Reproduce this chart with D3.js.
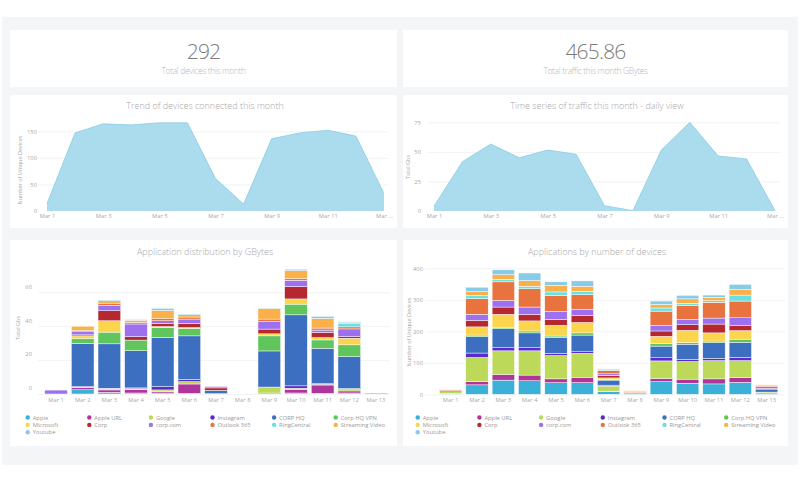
<!DOCTYPE html>
<html><head><meta charset="utf-8">
<script src="https://cdn.jsdelivr.net/npm/d3@7"></script>
<style>
html,body{margin:0;padding:0;background:#fff;}
svg{display:block;font-family:"Open Sans",sans-serif;}
</style></head>
<body><svg id="c" width="800" height="483"></svg>
<script>
// ---------------- DATA ----------------
const days = ["Mar 1","Mar 2","Mar 3","Mar 4","Mar 5","Mar 6","Mar 7","Mar 8","Mar 9","Mar 10","Mar 11","Mar 12","Mar 13"];
const areaTickDays = ["Mar 1","Mar 3","Mar 5","Mar 7","Mar 9","Mar 11","Mar 13"];
const areaTickLabels = ["Mar 1","Mar 3","Mar 5","Mar 7","Mar 9","Mar 11","Mar ..."];

const kpiValues = ["292","465.86"];
const kpiLabels = ["Total devices this month","Total traffic this month GBytes"];

const devicesTrend = [14,147,164,162,166,166,61,13,136,147,152,141,33];
const trafficTrend = [4,41.7,56.6,45,51.5,48,4.5,0.3,51.5,75,46.5,44,0.3];
const devicesTicks = [0,50,100,150];
const trafficTicks = [0,25,50,75];

const apps = ["Apple","Apple URL","Google","Instagram","CORP HQ","Corp HQ VPN","Microsoft","Corp","corp.com","Outlook 365","RingCentral","Streaming Video","Youtube"];
const appColors = ["#3bb0d9","#b0359a","#bcd95a","#5b2bc9","#3d6fc1","#5fc55c","#fcd54f","#b5282f","#9c70ee","#e8733e","#6ddfe0","#fbb04a","#87cbe8"];

// GBytes per app per day
const gbApple     = [0,2.5,1,0.6,0.6,0.4,0.2,0,0.6,0.6,0.4,0.6,0];
const gbAppleURL  = [0,1.2,1.4,2,0.8,5.5,0,0,0,2.2,4.9,1.2,0.2];
const gbGoogle    = [0,0.4,0.6,0.6,1,1.4,0,0,3.3,0.6,0.4,1.2,0];
const gbInstagram = [0,0.2,0.4,0.4,2,1.4,0,0,0.2,1.4,0.4,0.2,0];
const gbCorpHQ    = [0,25.5,26.2,21.9,28.9,25.6,2,0,21.3,41.9,20.9,18.9,0];
const gbCorpVPN   = [0,3,6.9,6.3,5.9,4.5,0,0,8.9,6.3,4.9,6.9,0];
const gbMicrosoft = [0,1.5,6.7,0,0.6,0.4,0,0,1.2,3.1,1.4,3.9,0];
const gbCorp      = [0,0.6,5.9,2,1.8,2.4,1.4,0,2.8,7.3,3,1,0];
const gbCorpCom   = [2.3,1.8,3.1,7.5,1.6,2.6,0.8,0,4.5,3.7,1.4,4.5,0.4];
const gbOutlook   = [0,0.8,1.4,1,1.2,1.2,0,0,1.4,1,1.2,1.2,0];
const gbRing      = [0,0,0,0,0,0,0,0,0,0,0,2.2,0];
const gbStreaming = [0,2.5,1.4,1.2,4.9,1.4,0,0,6.3,4.7,5.7,0.3,0];
const gbYoutube   = [0,0,0.4,0.4,1.2,0.4,0,0,0.2,0.8,1.2,0.5,0];
const gbTicks = [0,20,40,60];

// Unique devices per app per day
const dvApple     = [1,30,45,43,37,37,8,4,40,35,33,38,4];
const dvAppleURL  = [2,10,18,18,12,17,2,0,10,13,16,15,0];
const dvGoogle    = [5,77,75,77,74,76,16,2,56,56,58,54,3];
const dvInstagram = [0,14,10,10,7,5,3,0,10,7,7,10,0];
const dvCorpHQ    = [0,52,60,47,50,53,16,0,37,48,50,48,8];
const dvCorpVPN   = [0,5,5,6,5,7,2,0,8,5,5,10,0];
const dvMicrosoft = [0,26,41,32,34,33,5,0,23,39,26,27,0];
const dvCorp      = [4,21,23,21,19,23,8,0,17,18,28,16,4];
const dvCorpCom   = [0,19,21,23,25,19,5,0,18,17,19,25,6];
const dvOutlook   = [2,50,59,58,51,46,11,2,45,44,50,53,3];
const dvRing      = [0,10,8,8,11,11,2,0,10,7,5,19,0];
const dvStreaming = [0,12,15,18,21,16,3,3,11,14,11,18,2];
const dvYoutube   = [0,14,15,24,11,17,1,0,11,11,7,16,0];
const dvTicks = [0,100,200,300,400];

const gbSeries = [gbApple,gbAppleURL,gbGoogle,gbInstagram,gbCorpHQ,gbCorpVPN,gbMicrosoft,gbCorp,gbCorpCom,gbOutlook,gbRing,gbStreaming,gbYoutube];
const dvSeries = [dvApple,dvAppleURL,dvGoogle,dvInstagram,dvCorpHQ,dvCorpVPN,dvMicrosoft,dvCorp,dvCorpCom,dvOutlook,dvRing,dvStreaming,dvYoutube];

// ---------------- DRAW ----------------
const svg = d3.select("#c");
const TITLE = "#a8a8a8", AX = "#a8a8a8", GRID = "#efefef";

svg.append("rect").attr("x",2).attr("y",17).attr("width",796).attr("height",448).attr("fill","#f3f5f7");
const cards = [[10,30,387,57],[403,30,385,57],[10,95,387,133],[403,95,385,133],[10,240,387,206],[403,240,385,206]];
svg.selectAll("rect.card").data(cards).join("rect").attr("class","card")
  .attr("x",d=>d[0]).attr("y",d=>d[1]).attr("width",d=>d[2]).attr("height",d=>d[3]).attr("fill","#fff");

// KPIs
const kpiX = [203.5,595.5];
kpiValues.forEach((v,i)=>{
  svg.append("text").attr("x",kpiX[i]).attr("y",58.5).attr("text-anchor","middle")
    .attr("font-size",21).attr("font-weight",300).attr("fill","#7a7a7a").attr("letter-spacing","-0.8").text(v);
  svg.append("text").attr("x",kpiX[i]).attr("y",73.5).attr("text-anchor","middle")
    .attr("font-size",8.4).attr("font-weight",300).attr("fill","#b8b8b8").attr("letter-spacing","-0.3").text(kpiLabels[i]);
});

function title(x,y,t){
  svg.append("text").attr("x",x).attr("y",y).attr("text-anchor","middle")
    .attr("font-size",9).attr("font-weight",300).attr("fill",TITLE).text(t);
}
function yTitle(x,y,t){
  svg.append("text").attr("transform",`translate(${x},${y}) rotate(-90)`).attr("text-anchor","middle")
    .attr("font-size",5.5).attr("fill",AX).text(t);
}
function styleAxis(g){
  g.select(".domain").remove();
  g.selectAll("line").remove();
  g.selectAll("text").attr("font-size",5.8).attr("fill",AX).attr("font-family","Open Sans, sans-serif");
}
function grid(y,ticks,x0,x1){
  const g = svg.append("g");
  g.selectAll("line").data(ticks).join("line")
    .attr("x1",x0).attr("x2",x1).attr("y1",d=>y(d)+0.5).attr("y2",d=>y(d)+0.5)
    .attr("stroke",GRID).attr("stroke-width",0.8);
}

// Area charts
function areaChart(cfg){
  const x = d3.scalePoint().domain(days).range(cfg.xr);
  const y = d3.scaleLinear().domain(cfg.yd).range(cfg.yr);
  grid(y,cfg.ticks.filter(d=>d>0),cfg.gx[0],cfg.gx[1]);
  const area = d3.area().x((d,i)=>x(days[i])).y0(y(0)).y1(d=>y(d));
  const line = d3.line().x((d,i)=>x(days[i])).y(d=>y(d));
  svg.append("path").datum(cfg.values).attr("d",area).attr("fill","#aadcee");
  svg.append("path").datum(cfg.values).attr("d",line).attr("fill","none").attr("stroke","#86cbe5").attr("stroke-width",0.8);
  const ya = svg.append("g").attr("transform",`translate(${cfg.yax},0)`)
    .call(d3.axisLeft(y).tickValues(cfg.ticks).tickSize(0).tickPadding(0));
  styleAxis(ya);
  const xa = svg.append("g").attr("transform",`translate(0,${cfg.xay})`)
    .call(d3.axisBottom(x).tickValues(areaTickDays).tickSize(0).tickPadding(0)
      .tickFormat(d=>areaTickLabels[areaTickDays.indexOf(d)]));
  styleAxis(xa);
  title(cfg.tx,109,cfg.title);
  yTitle(cfg.ytx,cfg.yty,cfg.ytitle);
}
areaChart({xr:[47,384],yd:[0,150],yr:[211,131.3],ticks:devicesTicks,gx:[38,388],values:devicesTrend,
  yax:37,xay:214,tx:205,title:"Trend of devices connected this month",ytx:22,yty:170,ytitle:"Number of Unique Devices"});
areaChart({xr:[434,775],yd:[0,75],yr:[211,122.3],ticks:trafficTicks,gx:[427,781],values:trafficTrend,
  yax:421,xay:214,tx:597,title:"Time series of traffic this month - daily view",ytx:410,yty:167,ytitle:"Total Gbs"});

// Stacked bar charts
function barChart(cfg){
  const x = d3.scaleBand().domain(days).range(cfg.xr).paddingInner(0.15).paddingOuter(0.075);
  const y = d3.scaleLinear().domain(cfg.yd).range(cfg.yr);
  grid(y,cfg.ticks,cfg.gx[0],cfg.gx[1]);
  const rows = days.map((d,i)=>{const o={day:d}; apps.forEach((a,k)=>o[a]=cfg.series[k][i]); return o;});
  const stack = d3.stack().keys(apps)(rows);
  const g = svg.append("g");
  g.selectAll("g").data(stack).join("g").attr("fill",(d,i)=>appColors[i])
    .selectAll("rect").data(d=>d.filter(s=>s[1]-s[0]>0)).join("rect")
    .attr("x",d=>x(d.data.day)).attr("width",x.bandwidth())
    .attr("y",d=>y(d[1])).attr("height",d=>y(d[0])-y(d[1]))
    .attr("stroke","#fff").attr("stroke-width",0.45);
  const ya = svg.append("g").attr("transform",`translate(${cfg.yax},${cfg.ylabOff})`)
    .call(d3.axisLeft(y).tickValues(cfg.ticks).tickSize(0).tickPadding(0));
  styleAxis(ya);
  const xa = svg.append("g").attr("transform",`translate(0,${cfg.xay})`)
    .call(d3.axisBottom(x).tickSize(0).tickPadding(0));
  styleAxis(xa);
  title(cfg.tx,255,cfg.title);
  yTitle(cfg.ytx,cfg.yty,cfg.ytitle);
  // legend
  const cols = 6, colW = cfg.colW;
  const lg = svg.append("g");
  apps.forEach((a,i)=>{
    const cx = cfg.lx + (i%cols)*colW, cy = 417.5 + Math.floor(i/cols)*7.4;
    lg.append("circle").attr("cx",cx).attr("cy",cy).attr("r",2.2).attr("fill",appColors[i]);
    lg.append("text").attr("x",cx+5).attr("y",cy+2).attr("font-size",5.8).attr("fill","#999").text(a);
  });
}
barChart({xr:[42.7,389.3],yd:[0,60],yr:[394,292.3],ticks:gbTicks,gx:[38,390],series:gbSeries,
  yax:32,ylabOff:-6,xay:398,tx:205,title:"Application distribution by GBytes",ytx:20,yty:328,ytitle:"Total Gbs",lx:27.7,colW:61.6});
barChart({xr:[437.5,779.8],yd:[0,400],yr:[394.3,268.3],ticks:dvTicks,gx:[425,785],series:dvSeries,
  yax:423,ylabOff:0,xay:398,tx:597,title:"Applications by number of devices",ytx:411,yty:332,ytitle:"Number of Unique Devices",lx:417.7,colW:61.7});
</script></body></html>
